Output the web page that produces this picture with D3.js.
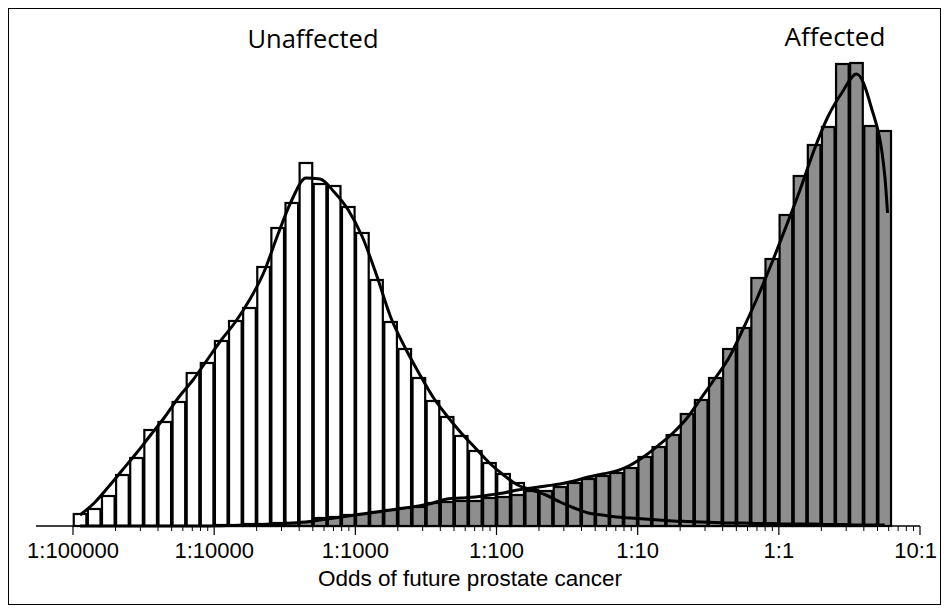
<!DOCTYPE html>
<html>
<head>
<meta charset="utf-8">
<script src="https://cdn.jsdelivr.net/npm/d3@7"></script>
<style>
  html, body { margin: 0; padding: 0; background: #fff; }
  svg { display: block; }
</style>
</head>
<body>
<svg id="chart" width="946" height="610"></svg>
<script>
// ---------------- data ----------------
// histogram bins: log10(odds) from -5.0 in steps of 0.1
const binStartLog = -5.0;
const binWidthLog = 0.1;

// Unaffected (white bars), frequency per bin
const unaffectedBars = [12, 17, 30, 51, 68, 96, 104, 124, 153, 163, 185, 205, 218, 259, 298, 323, 363, 342, 340, 319,
  293, 246, 204, 177, 148, 125, 109, 90, 75, 63, 52, 43, 36, 29, 24, 20, 16, 13, 11, 9,
  7, 6, 5, 4, 3, 3, 2, 2, 2, 2, 1, 1, 1, 1, 1, 1, 1, 0];

// Affected (grey bars), frequency per bin
const affectedBars = [0, 0, 0, 0, 0, 0, 0, 0, 0, 0, 1, 1, 2, 2, 3, 3, 4, 8, 9, 11,
  12, 14, 16, 18, 19, 23, 24, 25, 25, 28, 29, 31, 35, 35, 39, 43, 47, 50, 53, 58,
  69, 79, 91, 112, 126, 148, 177, 198, 248, 267, 311, 350, 381, 399, 462, 463, 400, 395];

// fitted smooth curves, value at each bin centre
const unaffectedCurve = [11, 23, 39, 56, 73, 91, 109, 129, 146, 166, 186, 204, 226, 253, 291, 326, 348, 347, 334, 316,
  289, 251, 209, 179, 153, 129, 110, 93, 78, 63, 51, 41, 36, 31, 24, 18, 13, 11, 9, 8,
  7, 6, 5, 4.5, 4, 3.5, 3, 3, 2.5, 2.5, 2, 2, 2, 1.5, 1.5, 1, 1, 1];
const affectedCurve = [0, 0, 0, 0, 0, 0, 0, 0, 0, 0, 0.3, 0.6, 1, 1.5, 2, 3, 4, 6, 8, 10,
  12, 14, 16, 18, 20, 23, 27, 28, 29, 31, 33, 36, 38, 40, 42, 45, 49, 52, 55, 61,
  70, 81, 93, 108, 128, 148, 169, 198, 229, 263, 299, 336, 376, 410, 434, 452, 421, 351];
const affectedCurveEnd = [0.77, 313]; // [log10 odds, value] where the fitted curve stops

const tickValues = [1e-5, 1e-4, 1e-3, 1e-2, 1e-1, 1, 10];
const tickLabels = ["1:100000", "1:10000", "1:1000", "1:100", "1:10", "1:1", "10:1"];
const xTitle = "Odds of future prostate cancer";
const seriesLabels = ["Unaffected", "Affected"];

// ---------------- chart ----------------
const svg = d3.select("#chart");
const W = 946, H = 610;

// frame
svg.append("rect").attr("x", 8.5).attr("y", 8.5).attr("width", W - 14).attr("height", H - 14)
  .attr("fill", "none").attr("stroke", "#000").attr("stroke-width", 1);

const x = d3.scaleLog().domain([1e-5, 10]).range([73, 920]);
const y = d3.scaleLinear().domain([0, 500]).range([526, 26]);

const bins = unaffectedBars.map((_, i) => ({
  lo: Math.pow(10, binStartLog + i * binWidthLog),
  hi: Math.pow(10, binStartLog + (i + 1) * binWidthLog),
  mid: Math.pow(10, binStartLog + (i + 0.5) * binWidthLog),
  u: unaffectedBars[i], a: affectedBars[i], uc: unaffectedCurve[i], ac: affectedCurve[i]
}));

function drawBars(key, fill) {
  svg.append("g").selectAll("rect").data(bins).join("rect")
    .attr("x", d => x(d.lo) + 0.75)
    .attr("width", d => x(d.hi) - x(d.lo) - 1.5)
    .attr("y", d => y(d[key]))
    .attr("height", d => y(0) - y(d[key]))
    .attr("fill", fill).attr("stroke", "#000").attr("stroke-width", 2.2);
}
drawBars("u", "#fff");
drawBars("a", "#8e8e8e");

// axis
const axisG = svg.append("g").attr("transform", `translate(0,${y(0)})`);
axisG.append("line").attr("x1", 36).attr("x2", x(10)).attr("y1", 0).attr("y2", 0)
  .attr("stroke", "#000").attr("stroke-width", 1.5);
const minor = [];
for (let e = -5; e < 1; e++) for (let m = 2; m <= 9; m++) minor.push(m * Math.pow(10, e));
axisG.append("g").selectAll("line").data(minor).join("line")
  .attr("x1", d => x(d)).attr("x2", d => x(d)).attr("y1", 0).attr("y2", 5)
  .attr("stroke", "#000").attr("stroke-width", 1);
axisG.append("g").selectAll("line").data(tickValues).join("line")
  .attr("x1", d => x(d)).attr("x2", d => x(d)).attr("y1", 0).attr("y2", 9)
  .attr("stroke", "#000").attr("stroke-width", 1.2);
axisG.append("g").selectAll("text").data(tickValues).join("text")
  .attr("x", (d, i) => i === tickValues.length - 1 ? x(d) + 17 : x(d)).attr("y", 32)
  .attr("text-anchor", (d, i) => i === tickValues.length - 1 ? "end" : "middle")
  .attr("font-family", "'Liberation Sans', Arial, sans-serif").attr("font-size", 22)
  .text((d, i) => tickLabels[i]);
svg.append("text").attr("x", 470).attr("y", 586).attr("text-anchor", "middle")
  .attr("font-family", "'Liberation Sans', Arial, sans-serif").attr("font-size", 22.5)
  .text(xTitle);

// curves
const line = d3.line().x(d => x(d[0])).y(d => y(d[1])).curve(d3.curveMonotoneX);
const uPts = bins.map(d => [d.mid, d.uc]);
const aPts = bins.map(d => [d.mid, d.ac]).concat([[Math.pow(10, affectedCurveEnd[0]), affectedCurveEnd[1]]]);
[uPts, aPts].forEach(p => svg.append("path").datum(p).attr("d", line)
  .attr("fill", "none").attr("stroke", "#000").attr("stroke-width", 3).attr("stroke-linejoin", "round"));

// series labels
svg.append("text").attr("x", 313).attr("y", 48).attr("text-anchor", "middle")
  .attr("font-family", "'Open Sans', sans-serif").attr("font-size", 25.5).text(seriesLabels[0]);
svg.append("text").attr("x", 835).attr("y", 46).attr("text-anchor", "middle")
  .attr("font-family", "'Open Sans', sans-serif").attr("font-size", 26).text(seriesLabels[1]);
</script>
</body>
</html>
